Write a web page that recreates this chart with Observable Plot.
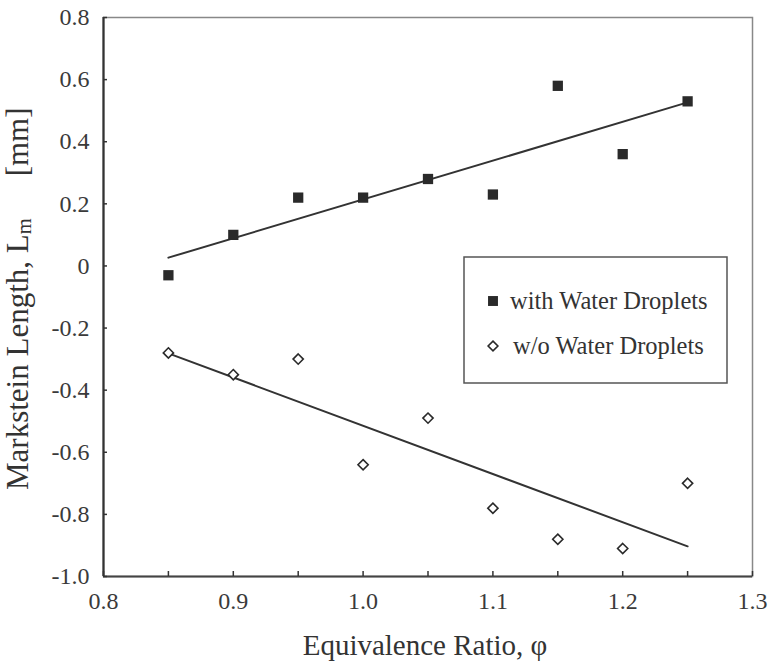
<!DOCTYPE html>
<html><head><meta charset="utf-8">
<script src="https://cdn.jsdelivr.net/npm/d3@7"></script>
<script src="https://cdn.jsdelivr.net/npm/@observablehq/plot@0.6"></script>
<style>
body{margin:0;background:#fff}
#chart{width:769px;height:664px}
#chart svg text, #chart svg tspan{font-family:"Liberation Serif","Times New Roman",serif;}
</style>
</head><body><div id="chart"></div>
<script>
const phi = [0.85, 0.9, 0.95, 1.0, 1.05, 1.1, 1.15, 1.2, 1.25];
const withDroplets = [-0.03, 0.10, 0.22, 0.22, 0.28, 0.23, 0.58, 0.36, 0.53];
const withoutDroplets = [-0.28, -0.35, -0.30, -0.64, -0.49, -0.78, -0.88, -0.91, -0.70];
const seriesNames = ["with Water Droplets", "w/o Water Droplets"];
const xTickValues = [0.8, 0.9, 1.0, 1.1, 1.2, 1.3];
const xTickLabels = ["0.8", "0.9", "1.0", "1.1", "1.2", "1.3"];
const xTickMarks = [0.8, 0.85, 0.9, 0.95, 1.0, 1.05, 1.1, 1.15, 1.2, 1.25, 1.3];
const yTickValues = [0.8, 0.6, 0.4, 0.2, 0, -0.2, -0.4, -0.6, -0.8, -1.0];
const yTickLabels = ["0.8", "0.6", "0.4", "0.2", "0", "-0.2", "-0.4", "-0.6", "-0.8", "-1.0"];
const xTitle = "Equivalence Ratio, φ";
const yTitleMain = "Markstein Length, L";
const yTitleSub = "m";
const yTitleUnit = "[mm]";

const W = 769, H = 664, mL = 103, mT = 17, mR = 17, mB = 88;
const pw = W - mL - mR, ph = H - mT - mB;

const dWith = phi.map((x, i) => ({x, y: withDroplets[i]}));
const dWo = phi.map((x, i) => ({x, y: withoutDroplets[i]}));
const ink = "#2a2a2a";
const ff = "'Liberation Serif', 'Times New Roman', serif";

const plot = Plot.plot({
  width: W, height: H,
  marginLeft: mL, marginTop: mT, marginRight: mR, marginBottom: mB,
  style: {fontFamily: ff, fontSize: "24px", color: "#333", background: "#fff"},
  x: {domain: [0.8, 1.3]},
  y: {domain: [-1.0, 0.8]},
  marks: [
    Plot.frame({stroke: "#888", strokeWidth: 1.5}),
    Plot.ruleX([0.8], {stroke: "#333", strokeWidth: 2.2}),
    Plot.ruleY([-1.0], {stroke: "#444", strokeWidth: 2}),
    Plot.tickX(xTickMarks, {x: d => d, insetTop: ph - 5, stroke: "#333", strokeWidth: 1.5}),
    Plot.tickY(yTickValues, {y: d => d, insetRight: pw - 4, stroke: "#333", strokeWidth: 1.5}),
    Plot.axisX(xTickValues, {tickSize: 0, tickPadding: 15, tickFormat: (d, i) => xTickLabels[i], label: null, fill: "#3a3a3a", fontFamily: ff}),
    Plot.axisY(yTickValues, {tickSize: 0, tickPadding: 14, tickFormat: (d, i) => yTickLabels[i], label: null, fill: "#3a3a3a", fontFamily: ff}),
    Plot.linearRegressionY(dWith, {x: "x", y: "y", ci: 0, stroke: "#333", strokeWidth: 2}),
    Plot.linearRegressionY(dWo, {x: "x", y: "y", ci: 0, stroke: "#333", strokeWidth: 2}),
    Plot.dot(dWith, {x: "x", y: "y", symbol: "square", r: 5.8, fill: ink, stroke: "none"}),
    Plot.dot(dWo, {x: "x", y: "y", symbol: "diamond2", r: 4.6, fill: "#fff", stroke: ink, strokeWidth: 1.6})
  ]
});
document.getElementById("chart").appendChild(plot);

const svg = d3.select(plot);
// x title
svg.append("text").attr("x", 425).attr("y", 655).attr("text-anchor", "middle")
  .attr("font-family", ff).attr("font-size", 29).attr("fill", "#333").text(xTitle);
// y title
const yt = svg.append("text").attr("transform", "translate(28,490) rotate(-90)")
  .attr("text-anchor", "start")
  .attr("font-family", ff).attr("font-size", 31).attr("fill", "#333");
yt.append("tspan").text(yTitleMain);
yt.append("tspan").attr("font-size", 20.5).attr("dy", 3).text(yTitleSub);
yt.append("tspan").attr("dy", -3).attr("dx", 42).text(yTitleUnit);

// legend
const lg = svg.append("g").attr("text-anchor", "start");
lg.append("rect").attr("x", 464).attr("y", 257).attr("width", 263).attr("height", 126)
  .attr("fill", "#fff").attr("stroke", "#555").attr("stroke-width", 1.5);
lg.append("path").attr("transform", "translate(493,301)")
  .attr("d", d3.symbol(d3.symbolSquare, Math.PI * 5.6 * 5.6)()).attr("fill", ink);
lg.append("path").attr("transform", "translate(493,346)")
  .attr("d", d3.symbol(d3.symbolDiamond2, Math.PI * 4.4 * 4.4)()).attr("fill", "#fff")
  .attr("stroke", ink).attr("stroke-width", 1.6);
lg.append("text").attr("x", 510).attr("y", 309).attr("font-family", ff).attr("font-size", 24.5)
  .attr("fill", "#333").text(seriesNames[0]);
lg.append("text").attr("x", 513).attr("y", 354).attr("font-family", ff).attr("font-size", 24.5)
  .attr("fill", "#333").text(seriesNames[1]);
</script></body></html>
